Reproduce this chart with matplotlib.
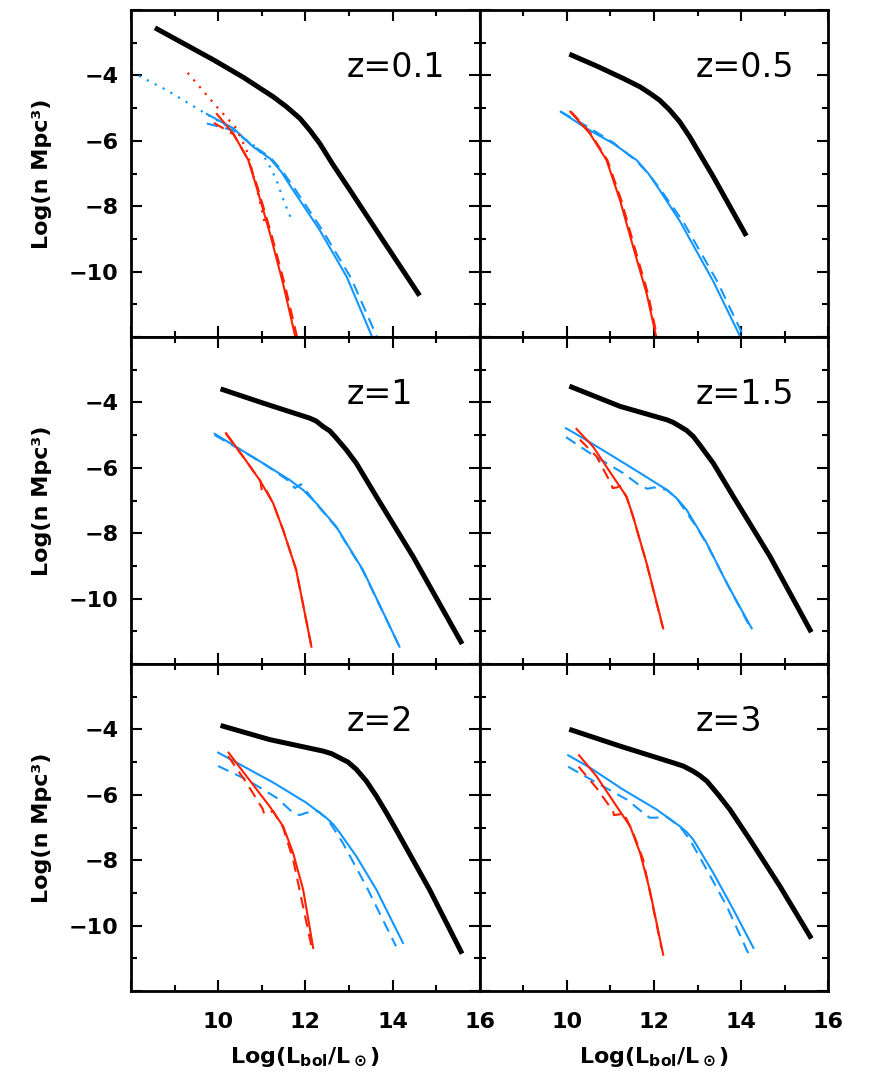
import matplotlib
matplotlib.use('Agg')
import matplotlib.pyplot as plt
from matplotlib.ticker import MultipleLocator, FuncFormatter

plt.rcParams['font.family'] = 'DejaVu Sans'
plt.rcParams['mathtext.fontset'] = 'custom'
plt.rcParams['mathtext.rm'] = 'DejaVu Sans:bold'
plt.rcParams['mathtext.bf'] = 'DejaVu Sans:bold'
plt.rcParams['mathtext.default'] = 'rm'

# ---------------- data ----------------
z_labels = ['z=0.1', 'z=0.5', 'z=1', 'z=1.5', 'z=2', 'z=3']

# z = 0.1
tot_x_z01 = [8.6, 9.9, 10.58, 11.26, 11.57, 11.88, 12.1, 12.33, 12.64, 13.02, 13.79, 14.59]
tot_y_z01 = [-2.58, -3.53, -4.06, -4.65, -4.96, -5.32, -5.67, -6.08, -6.74, -7.5, -9.06, -10.67]
blu_x_z01 = [9.74, 10.35, 10.8, 11.19, 11.45, 11.72, 12.33, 12.95, 13.55]
blu_y_z01 = [-5.18, -5.62, -6.18, -6.54, -6.95, -7.51, -8.73, -10.16, -12.05]
bld_x_z01 = [9.74, 10.35, 10.8, 11.19, 11.47, 11.75, 12.4, 13.05, 13.66]
bld_y_z01 = [-5.47, -5.68, -6.15, -6.5, -6.92, -7.45, -8.75, -10.2, -12.05]
bdo_x_z01 = [8.0, 8.82, 9.58, 10.2, 10.65, 10.88, 11.11, 11.34, 11.5, 11.69]
bdo_y_z01 = [-3.89, -4.45, -5.06, -5.55, -5.98, -6.2, -6.59, -7.2, -7.82, -8.43]
red_x_z01 = [9.97, 10.35, 10.69, 10.88, 11.19, 11.49, 11.78]
red_y_z01 = [-5.18, -5.78, -6.59, -7.41, -8.84, -10.37, -12.05]
rdd_x_z01 = [9.9, 10.35, 10.7, 10.9, 11.22, 11.53, 11.82]
rdd_y_z01 = [-5.45, -5.8, -6.6, -7.4, -8.85, -10.4, -12.05]
rdo_x_z01 = [9.3, 9.97, 10.42, 10.65, 10.88, 11.07]
rdo_y_z01 = [-3.92, -4.96, -5.62, -6.28, -7.41, -8.53]

# z = 0.5
tot_x_z05 = [10.11, 10.68, 11.29, 11.68, 11.91, 12.13, 12.36, 12.59, 12.82, 13.36, 14.09]
tot_y_z05 = [-3.38, -3.71, -4.09, -4.35, -4.55, -4.76, -5.06, -5.42, -5.88, -7.1, -8.84]
blu_x_z05 = [9.86, 10.45, 11.06, 11.6, 11.87, 12.13, 12.59, 13.36, 14.0]
blu_y_z05 = [-5.11, -5.62, -6.08, -6.59, -7.0, -7.51, -8.45, -10.3, -12.05]
bld_x_z05 = [9.86, 10.45, 11.06, 11.6, 11.9, 12.18, 12.68, 13.45, 14.08]
bld_y_z05 = [-5.11, -5.55, -6.05, -6.62, -7.05, -7.55, -8.5, -10.3, -12.05]
red_x_z05 = [10.08, 10.53, 10.91, 11.22, 11.52, 11.83, 12.06]
red_y_z05 = [-5.11, -5.78, -6.59, -7.82, -9.24, -10.67, -12.05]
rdd_x_z05 = [10.1, 10.55, 10.93, 11.25, 11.55, 11.86, 12.08]
rdd_y_z05 = [-5.11, -5.78, -6.59, -7.82, -9.24, -10.67, -12.05]

# z = 1
tot_x_z1 = [10.11, 11.03, 12.1, 12.25, 12.4, 12.56, 12.71, 12.94, 13.17, 13.4, 13.63, 14.47, 15.57]
tot_y_z1 = [-3.61, -4.02, -4.48, -4.57, -4.73, -4.87, -5.09, -5.45, -5.86, -6.37, -6.88, -8.71, -11.32]
blu_x_z1 = [9.92, 10.34, 11.03, 11.64, 11.95, 12.25, 12.71, 13.32, 14.16]
blu_y_z1 = [-4.96, -5.30, -5.86, -6.37, -6.68, -7.08, -7.80, -9.12, -11.47]
bld_x_z1 = [9.92, 10.34, 11.03, 11.6, 11.76, 11.9, 12.25, 12.71, 13.32, 14.16]
bld_y_z1 = [-5.0, -5.32, -5.86, -6.38, -6.62, -6.5, -7.1, -7.82, -9.14, -11.47]
red_x_z1 = [10.18, 10.57, 10.95, 11.26, 11.49, 11.79, 12.14]
red_y_z1 = [-4.94, -5.65, -6.37, -7.08, -7.90, -9.12, -11.47]
rdd_x_z1 = [10.18, 10.57, 10.97, 11.0, 11.08, 11.26, 11.49, 11.79, 12.14]
rdd_y_z1 = [-4.96, -5.66, -6.4, -6.7, -6.62, -7.08, -7.9, -9.12, -11.47]

# z = 1.5
tot_x_z15 = [10.11, 11.22, 12.29, 12.44, 12.59, 12.75, 12.9, 13.05, 13.36, 13.59, 13.82, 14.66, 15.58]
tot_y_z15 = [-3.53, -4.12, -4.53, -4.61, -4.73, -4.86, -5.04, -5.3, -5.86, -6.37, -6.88, -8.71, -10.96]
blu_x_z15 = [9.98, 10.37, 11.06, 11.68, 12.29, 12.52, 12.75, 12.98, 13.21, 13.67, 14.24]
blu_y_z15 = [-4.79, -5.09, -5.65, -6.16, -6.67, -6.93, -7.29, -7.8, -8.31, -9.53, -10.91]
bld_x_z15 = [9.98, 10.53, 11.29, 11.68, 11.85, 12.0, 12.29, 12.52, 12.98, 13.21, 13.7, 14.2]
bld_y_z15 = [-5.06, -5.55, -6.16, -6.55, -6.64, -6.6, -6.67, -6.93, -7.82, -8.33, -9.6, -10.86]
red_x_z15 = [10.22, 10.6, 11.06, 11.37, 11.52, 11.83, 12.21]
red_y_z15 = [-4.81, -5.35, -6.27, -6.88, -7.49, -8.92, -10.91]
rdd_x_z15 = [10.3, 10.68, 11.02, 11.05, 11.15, 11.22, 11.37, 11.52, 11.83, 12.2]
rdd_y_z15 = [-5.14, -5.65, -6.5, -6.62, -6.6, -6.55, -6.9, -7.5, -8.93, -10.88]

# z = 2
tot_x_z2 = [10.11, 11.18, 12.4, 12.6, 12.79, 12.98, 13.17, 13.4, 13.63, 13.86, 14.08, 14.85, 15.57]
tot_y_z2 = [-3.90, -4.31, -4.66, -4.74, -4.87, -5.0, -5.22, -5.58, -6.04, -6.55, -7.06, -8.90, -10.79]
blu_x_z2 = [10.0, 10.5, 11.27, 12.02, 12.48, 12.64, 12.79, 13.17, 13.63, 14.24]
blu_y_z2 = [-4.71, -5.07, -5.63, -6.24, -6.70, -6.9, -7.16, -7.88, -8.90, -10.53]
bld_x_z2 = [10.0, 10.65, 11.34, 11.72, 11.87, 12.02, 12.29, 12.52, 12.86, 13.4, 14.08]
bld_y_z2 = [-5.12, -5.53, -6.09, -6.55, -6.62, -6.55, -6.5, -6.76, -7.47, -8.80, -10.63]
red_x_z2 = [10.24, 10.65, 11.18, 11.49, 11.72, 11.95, 12.18]
red_y_z2 = [-4.71, -5.43, -6.35, -6.96, -7.78, -8.90, -10.68]
rdd_x_z2 = [10.23, 10.65, 11.03, 11.05, 11.15, 11.26, 11.49, 11.72, 12.14]
rdd_y_z2 = [-4.82, -5.63, -6.45, -6.58, -6.55, -6.5, -7.0, -7.98, -10.63]

# z = 3
tot_x_z3 = [10.11, 11.22, 12.44, 12.67, 12.9, 13.05, 13.21, 13.47, 13.74, 13.97, 14.2, 14.89, 15.58]
tot_y_z3 = [-4.02, -4.51, -5.02, -5.12, -5.28, -5.41, -5.58, -5.99, -6.45, -6.91, -7.37, -8.80, -10.33]
blu_x_z3 = [10.03, 10.53, 11.29, 12.06, 12.59, 12.75, 12.9, 13.36, 13.82, 14.28]
blu_y_z3 = [-4.79, -5.17, -5.84, -6.45, -6.96, -7.14, -7.37, -8.39, -9.51, -10.68]
bld_x_z3 = [10.03, 10.68, 11.37, 11.75, 11.9, 12.0, 12.3, 12.6, 12.82, 13.21, 13.67, 14.16]
bld_y_z3 = [-5.14, -5.63, -6.14, -6.55, -6.7, -6.7, -6.68, -6.98, -7.37, -8.29, -9.41, -10.84]
red_x_z3 = [10.28, 10.68, 11.14, 11.45, 11.68, 11.9, 12.21]
red_y_z3 = [-4.79, -5.43, -6.35, -6.96, -7.78, -8.90, -10.89]
rdd_x_z3 = [10.27, 10.68, 11.06, 11.08, 11.2, 11.3, 11.52, 11.75, 12.17]
rdd_y_z3 = [-5.14, -5.79, -6.5, -6.62, -6.6, -6.55, -7.16, -7.98, -10.68]

x_ticks = [8, 10, 12, 14, 16]
y_ticks = [-12, -10, -8, -6, -4, -2]
x_label = r'Log(L$_{\rm bol}$/L$_\odot$)'
y_label = 'Log(n Mpc³)'

# ---------------- styling ----------------
BLUE = '#1496ff'
RED = '#ff2000'
BLACK = '#000000'
DASH = (0, (5.5, 3.5))
DOT = (0, (1, 3))

panels = [
    (tot_x_z01, tot_y_z01, blu_x_z01, blu_y_z01, bld_x_z01, bld_y_z01,
     red_x_z01, red_y_z01, rdd_x_z01, rdd_y_z01),
    (tot_x_z05, tot_y_z05, blu_x_z05, blu_y_z05, bld_x_z05, bld_y_z05,
     red_x_z05, red_y_z05, rdd_x_z05, rdd_y_z05),
    (tot_x_z1, tot_y_z1, blu_x_z1, blu_y_z1, bld_x_z1, bld_y_z1,
     red_x_z1, red_y_z1, rdd_x_z1, rdd_y_z1),
    (tot_x_z15, tot_y_z15, blu_x_z15, blu_y_z15, bld_x_z15, bld_y_z15,
     red_x_z15, red_y_z15, rdd_x_z15, rdd_y_z15),
    (tot_x_z2, tot_y_z2, blu_x_z2, blu_y_z2, bld_x_z2, bld_y_z2,
     red_x_z2, red_y_z2, rdd_x_z2, rdd_y_z2),
    (tot_x_z3, tot_y_z3, blu_x_z3, blu_y_z3, bld_x_z3, bld_y_z3,
     red_x_z3, red_y_z3, rdd_x_z3, rdd_y_z3),
]

fig, axes = plt.subplots(3, 2, figsize=(8.72, 10.9), dpi=100)
fig.subplots_adjust(left=0.1502, right=0.950, top=0.9908, bottom=0.0908,
                    hspace=0, wspace=0)


def xfmt(v, p):
    return '' if abs(v - 8) < 1e-6 else f'{v:g}'


def yfmt(v, p):
    if abs(v + 2) < 1e-6 or abs(v + 12) < 1e-6:
        return ''
    return f'{v:g}'.replace('-', '\u2212')


for i, ax in enumerate(axes.flat):
    row, col = divmod(i, 2)
    (tx, ty, bx, by, bdx, bdy, rx, ry, rdx, rdy) = panels[i]
    ax.plot(bx, by, color=BLUE, lw=1.5, solid_joinstyle='round')
    ax.plot(bdx, bdy, color=BLUE, lw=1.5, linestyle=DASH)
    ax.plot(rx, ry, color=RED, lw=1.5, solid_joinstyle='round')
    ax.plot(rdx, rdy, color=RED, lw=1.5, linestyle=DASH)
    if i == 0:
        ax.plot(bdo_x_z01, bdo_y_z01, color=BLUE, lw=1.6, linestyle=DOT)
        ax.plot(rdo_x_z01, rdo_y_z01, color=RED, lw=1.6, linestyle=DOT)
    ax.plot(tx, ty, color=BLACK, lw=3.6, solid_joinstyle='round')

    ax.text(12.95, -4.05, z_labels[i], fontsize=24, ha='left', va='baseline')

    ax.set_xlim(8, 16)
    ax.set_ylim(-12, -2)
    ax.set_xticks(x_ticks)
    ax.set_yticks(y_ticks)
    ax.xaxis.set_minor_locator(MultipleLocator(1))
    ax.yaxis.set_minor_locator(MultipleLocator(1))
    ax.tick_params(which='both', direction='in', top=True, right=True,
                   width=1.5, colors='black')
    ax.tick_params(which='major', length=8)
    ax.tick_params(which='minor', length=4.5)
    ax.tick_params(axis='x', pad=15, labelsize=16)
    ax.tick_params(axis='y', pad=9, labelsize=16)
    for lab in ax.get_xticklabels() + ax.get_yticklabels():
        lab.set_fontweight('bold')
    ax.xaxis.set_major_formatter(FuncFormatter(xfmt))
    ax.yaxis.set_major_formatter(FuncFormatter(yfmt))
    for s in ax.spines.values():
        s.set_linewidth(2)

    if row < 2:
        ax.tick_params(axis='x', labelbottom=False)
    else:
        ax.set_xlabel(x_label, fontsize=16, fontweight='bold')
        ax.xaxis.set_label_coords(0.5, -0.165)
    if col == 1:
        ax.tick_params(axis='y', labelleft=False)
    else:
        ax.set_ylabel(y_label, fontsize=16, fontweight='bold')
        ax.yaxis.set_label_coords(-0.227, 0.5)

fig.savefig('out.png', dpi=100)
